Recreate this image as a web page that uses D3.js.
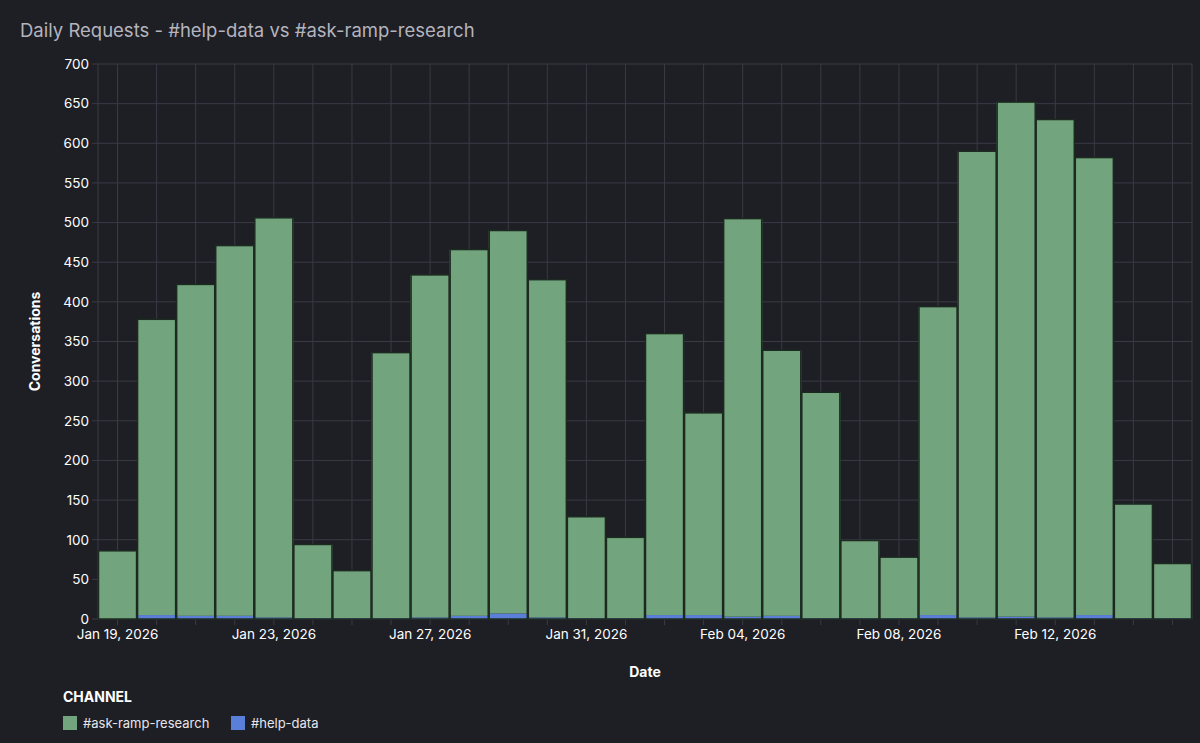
<!DOCTYPE html>
<html>
<head>
<meta charset="utf-8">
<script src="https://cdn.jsdelivr.net/npm/d3@7"></script>
<style>
  html, body { margin: 0; padding: 0; background: #1e1e25; }
  svg { display: block; font-family: "Inter", "Open Sans", sans-serif; }
</style>
</head>
<body>
<svg id="svg"></svg>
<script>
// daily conversation counts, Jan 19 - Feb 15 2026
const days = [
  '2026-01-19', '2026-01-20', '2026-01-21', '2026-01-22', '2026-01-23', '2026-01-24', '2026-01-25',
  '2026-01-26', '2026-01-27', '2026-01-28', '2026-01-29', '2026-01-30', '2026-01-31', '2026-02-01',
  '2026-02-02', '2026-02-03', '2026-02-04', '2026-02-05', '2026-02-06', '2026-02-07', '2026-02-08',
  '2026-02-09', '2026-02-10', '2026-02-11', '2026-02-12', '2026-02-13', '2026-02-14', '2026-02-15'
];
const askRampResearch = [
  86, 373, 418, 467, 504, 93, 60,
  335, 432, 462, 483, 426, 128, 102,
  355, 255, 502, 335, 285, 98, 77,
  389, 588, 649, 628, 577, 144, 69
];
const helpData = [
  0, 5, 4, 4, 2, 1, 1,
  1, 2, 4, 7, 2, 1, 1,
  5, 5, 3, 4, 1, 1, 1,
  5, 2, 3, 2, 5, 1, 1
];
const yTicks = [0, 50, 100, 150, 200, 250, 300, 350, 400, 450, 500, 550, 600, 650, 700];
const labelDays = ['2026-01-19', '2026-01-23', '2026-01-27', '2026-01-31', '2026-02-04', '2026-02-08', '2026-02-12'];
const channels = ['#ask-ramp-research', '#help-data'];
const colors = ['#72a47d', '#5a7fd8'];

const width = 1200;
const height = 743;
const margin = { left: 98, right: 8, top: 64, bottom: 124 };

const svg = d3.select('#svg')
  .attr('width', width)
  .attr('height', height);

const rows = days.map((d, i) => ({
  day: d,
  '#help-data': helpData[i],
  '#ask-ramp-research': askRampResearch[i]
}));

const xScale = d3.scaleBand()
  .domain(days)
  .range([margin.left, width - margin.right])
  .padding(0);

const yScale = d3.scaleLinear()
  .domain([0, 700])
  .range([height - margin.bottom, margin.top]);

const fmt = d3.timeFormat('%b %d, %Y');
const parse = d3.timeParse('%Y-%m-%d');

// title
svg.append('text')
  .attr('x', 20)
  .attr('y', 37)
  .attr('fill', '#b4b4bd')
  .attr('font-size', '18.5px')
  .text('Daily Requests - #help-data vs #ask-ramp-research');

// grid
const grid = svg.append('g');
grid.selectAll('.hgrid')
  .data(yTicks)
  .enter()
  .append('line')
  .attr('x1', margin.left - 6)
  .attr('x2', width - margin.right)
  .attr('y1', d => yScale(d))
  .attr('y2', d => yScale(d))
  .attr('stroke', '#3a3a46')
  .attr('stroke-width', 1);

grid.selectAll('.vgrid')
  .data(days)
  .enter()
  .append('line')
  .attr('x1', d => xScale(d) + xScale.bandwidth() / 2)
  .attr('x2', d => xScale(d) + xScale.bandwidth() / 2)
  .attr('y1', yScale(700))
  .attr('y2', yScale(0) + 6)
  .attr('stroke', '#3a3a46')
  .attr('stroke-width', 1);

[margin.left, width - margin.right].forEach(x => {
  grid.append('line')
    .attr('x1', x).attr('x2', x)
    .attr('y1', yScale(700)).attr('y2', yScale(0))
    .attr('stroke', '#3a3a46');
});

// stacked bars
const stack = d3.stack().keys(['#help-data', '#ask-ramp-research']);
const series = stack(rows);

svg.append('g')
  .selectAll('g')
  .data(series)
  .enter()
  .append('g')
  .attr('fill', d => colors[channels.indexOf(d.key)])
  .selectAll('rect')
  .data(d => d)
  .enter()
  .append('rect')
  .attr('x', d => xScale(d.data.day))
  .attr('width', xScale.bandwidth())
  .attr('y', d => yScale(d[1]))
  .attr('height', d => yScale(d[0]) - yScale(d[1]));

// bar outlines
svg.append('g')
  .selectAll('rect')
  .data(rows)
  .enter()
  .append('rect')
  .attr('x', d => xScale(d.day) + 0.5)
  .attr('width', xScale.bandwidth() - 1)
  .attr('y', d => yScale(d['#help-data'] + d['#ask-ramp-research']))
  .attr('height', d => yScale(0) - yScale(d['#help-data'] + d['#ask-ramp-research']))
  .attr('fill', 'none')
  .attr('stroke', '#1c2a20')
  .attr('stroke-width', 1.5);

// y axis
const yAxis = svg.append('g')
  .attr('transform', `translate(${margin.left},0)`)
  .call(d3.axisLeft(yScale).tickValues(yTicks).tickSize(0).tickPadding(9));
yAxis.select('.domain').remove();
yAxis.selectAll('text')
  .attr('fill', '#ffffff')
  .attr('font-size', '13.5px')
  .attr('font-family', '"Inter", "Open Sans", sans-serif');

// x axis
const xAxis = svg.append('g')
  .attr('transform', `translate(0,${yScale(0)})`)
  .call(d3.axisBottom(xScale).tickValues(labelDays).tickSize(0).tickPadding(10)
    .tickFormat(d => fmt(parse(d)).replace(/^(\w+) 0?(\d+)/, (m, a, b) => a + ' ' + (a === 'Jan' ? b : b.padStart(2, '0')))));
xAxis.select('.domain').remove();
xAxis.selectAll('text')
  .attr('fill', '#ffffff')
  .attr('font-size', '13.5px')
  .attr('font-family', '"Inter", "Open Sans", sans-serif');

// axis titles
svg.append('text')
  .attr('transform', `translate(40,${(yScale(0) + yScale(700)) / 2}) rotate(-90)`)
  .attr('text-anchor', 'middle')
  .attr('fill', '#ffffff')
  .attr('font-size', '14px')
  .attr('font-weight', 'bold')
  .text('Conversations');

svg.append('text')
  .attr('x', (margin.left + width - margin.right) / 2)
  .attr('y', 677)
  .attr('text-anchor', 'middle')
  .attr('fill', '#ffffff')
  .attr('font-size', '14px')
  .attr('font-weight', 'bold')
  .text('Date');

// legend
svg.append('text')
  .attr('x', 63)
  .attr('y', 702)
  .attr('fill', '#ffffff')
  .attr('font-size', '14px')
  .attr('font-weight', 'bold')
  .text('CHANNEL');

const legendX = [63, 231];
const legend = svg.append('g')
  .selectAll('g')
  .data(channels)
  .enter()
  .append('g')
  .attr('transform', (d, i) => `translate(${legendX[i]},716)`);

legend.append('rect')
  .attr('width', 14)
  .attr('height', 14)
  .attr('fill', (d, i) => colors[i]);

legend.append('text')
  .attr('x', 20)
  .attr('y', 12)
  .attr('fill', '#e6e6ea')
  .attr('font-size', '13px')
  .text(d => d);
</script>
</body>
</html>
